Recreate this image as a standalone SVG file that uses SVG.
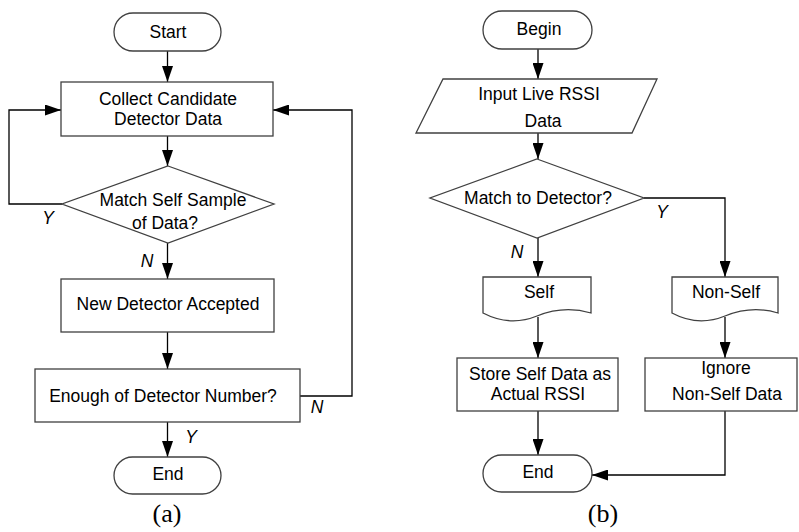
<svg xmlns="http://www.w3.org/2000/svg" width="799" height="532" viewBox="0 0 799 532">
<style>
.s{fill:#fff;stroke:#404040;stroke-width:1.3}
.c{fill:none;stroke:#000;stroke-width:1.3}
.t{font-family:"Liberation Sans",Arial,sans-serif;font-size:17.5px;fill:#000;text-anchor:middle}
.l{font-family:"Liberation Sans",Arial,sans-serif;font-size:17.5px;font-style:italic;fill:#000;text-anchor:middle}
.cap{font-family:"Liberation Serif","Times New Roman",serif;font-size:26px;fill:#000;text-anchor:middle}
</style>
<defs>
<marker id="ah" viewBox="0 0 16 11" refX="16" refY="5.5" markerWidth="16" markerHeight="11" markerUnits="userSpaceOnUse" orient="auto">
<path d="M0,0 L16,5.5 L0,11 z" fill="#000"/>
</marker>
</defs>
<rect width="799" height="532" fill="#fff"/>
<g id="connectors">
<path class="c" d="M167.5,51 V82" marker-end="url(#ah)"/>
<path class="c" d="M167.5,136 V166" marker-end="url(#ah)"/>
<path class="c" d="M62,204 H9 V110 H61" marker-end="url(#ah)"/>
<path class="c" d="M167.5,243 V279" marker-end="url(#ah)"/>
<path class="c" d="M167.5,332 V369" marker-end="url(#ah)"/>
<path class="c" d="M300,396 H352 V110 H273" marker-end="url(#ah)"/>
<path class="c" d="M167.5,422 V457" marker-end="url(#ah)"/>
<path class="c" d="M538,49 V79" marker-end="url(#ah)"/>
<path class="c" d="M538,133 V159" marker-end="url(#ah)"/>
<path class="c" d="M644,198 H725 V277" marker-end="url(#ah)"/>
<path class="c" d="M538,238 V277" marker-end="url(#ah)"/>
<path class="c" d="M538,317 V358" marker-end="url(#ah)"/>
<path class="c" d="M725,317 V358" marker-end="url(#ah)"/>
<path class="c" d="M538,411 V455" marker-end="url(#ah)"/>
<path class="c" d="M725,411 V475 H592" marker-end="url(#ah)"/>
</g>
<g id="labels">
<text class="l" x="48" y="224">Y</text>
<text class="l" x="147" y="267">N</text>
<text class="l" x="317" y="413">N</text>
<text class="l" x="191" y="443">Y</text>
<text class="l" x="662" y="218">Y</text>
<text class="l" x="517" y="258">N</text>
</g>
<g id="start">
<rect class="s" x="114" y="13" width="107" height="38" rx="19"/>
<text class="t" x="168" y="38">Start</text>
</g>
<g id="collect">
<rect class="s" x="61" y="82" width="212" height="54"/>
<text class="t" x="168" y="105">Collect Candidate</text>
<text class="t" x="168" y="125">Detector Data</text>
</g>
<g id="match-self">
<polygon class="s" points="168,166 274,204 168,243 62,204"/>
<text class="t" x="173" y="206">Match Self Sample</text>
<text class="t" x="165" y="229">of Data?</text>
</g>
<g id="new-detector">
<rect class="s" x="61" y="279" width="213" height="53"/>
<text class="t" x="168" y="310">New Detector Accepted</text>
</g>
<g id="enough">
<rect class="s" x="35" y="369" width="265" height="53"/>
<text class="t" x="163" y="402">Enough of Detector Number?</text>
</g>
<g id="end-a">
<rect class="s" x="114" y="457" width="107" height="37" rx="18.5"/>
<text class="t" x="168" y="480">End</text>
</g>
<g id="begin">
<rect class="s" x="483" y="11" width="109" height="38" rx="19"/>
<text class="t" x="539" y="35">Begin</text>
</g>
<g id="input">
<polygon class="s" points="443,79 657,79 632,133 416,133"/>
<text class="t" x="539" y="100">Input Live RSSI</text>
<text class="t" x="543" y="127">Data</text>
</g>
<g id="match-detector">
<polygon class="s" points="537,159 644,198 537,238 430,198"/>
<text class="t" x="538" y="204">Match to Detector?</text>
</g>
<g id="self">
<path class="s" d="M483,277 H591 V313 Q564,305 537,316 Q510,327 483,313 Z"/>
<text class="t" x="539" y="298">Self</text>
</g>
<g id="non-self">
<path class="s" d="M672,277 H778 V313 Q752,305 725,316 Q698,327 672,313 Z"/>
<text class="t" x="726" y="298">Non-Self</text>
</g>
<g id="store">
<rect class="s" x="457" y="358" width="161" height="53"/>
<text class="t" x="540" y="380">Store Self Data as</text>
<text class="t" x="538" y="400">Actual RSSI</text>
</g>
<g id="ignore">
<rect class="s" x="645" y="358" width="152" height="53"/>
<text class="t" x="726" y="374">Ignore</text>
<text class="t" x="727" y="400">Non-Self Data</text>
</g>
<g id="end-b">
<rect class="s" x="483" y="455" width="109" height="37" rx="18.5"/>
<text class="t" x="538" y="478">End</text>
</g>
<g id="captions">
<text class="cap" x="167" y="522">(a)</text>
<text class="cap" x="603" y="522">(b)</text>
</g>
</svg>
